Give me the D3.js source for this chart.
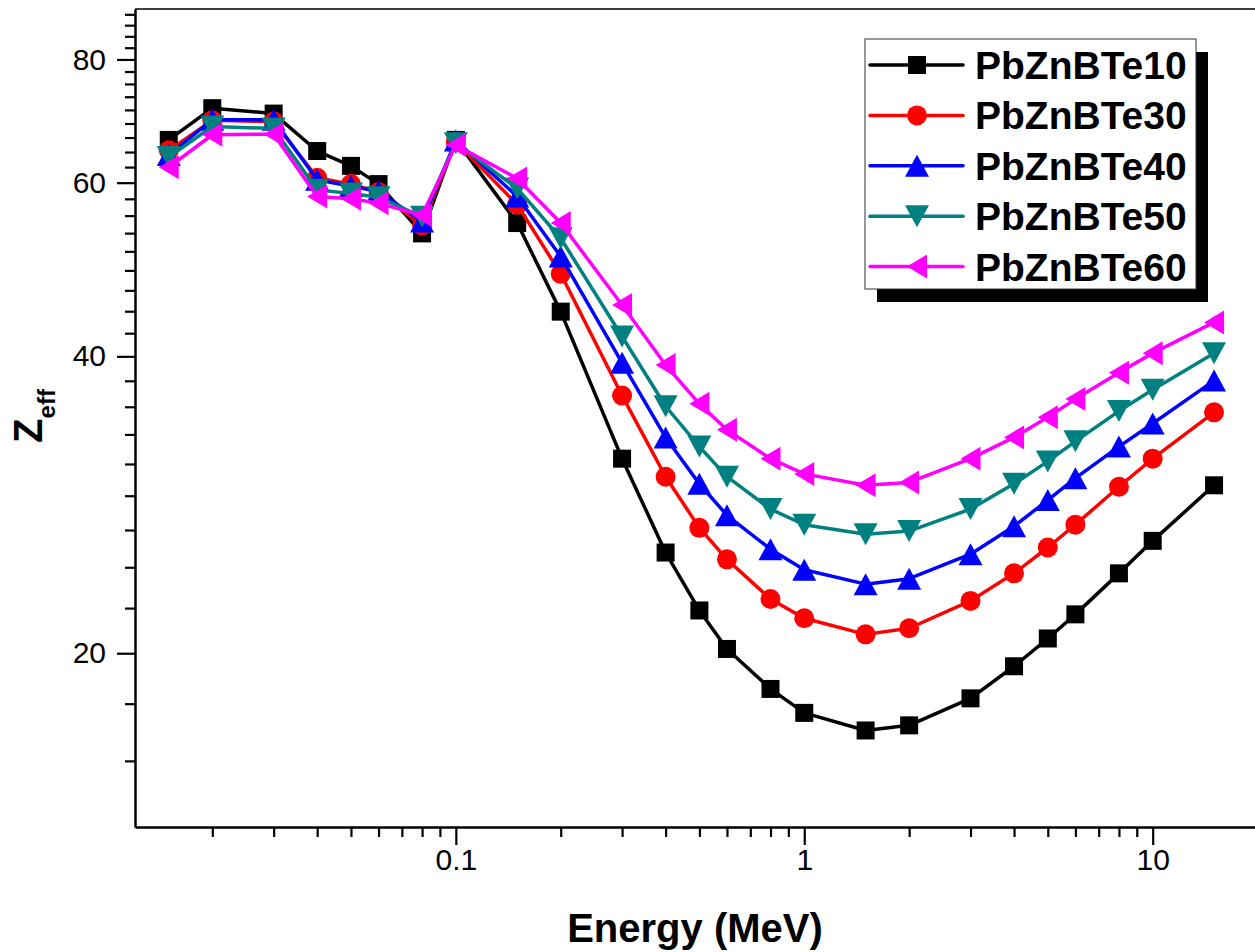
<!DOCTYPE html>
<html>
<head>
<meta charset="utf-8">
<script src="https://cdn.jsdelivr.net/npm/d3@7"></script>
<style>
  html, body { margin: 0; padding: 0; background: #ffffff; }
  svg { display: block; }
</style>
</head>
<body>
<script>
// Photon energies (MeV)
const energy = [0.015, 0.02, 0.03, 0.04, 0.05, 0.06, 0.08, 0.1, 0.15, 0.2, 0.3, 0.4, 0.5, 0.6, 0.8,
                1, 1.5, 2, 3, 4, 5, 6, 8, 10, 15];

// Effective atomic number for each glass
const zPbZnBTe10 = [66.3, 71.4, 70.5, 64.6, 62.4, 59.8, 53.3, 66.3, 54.6, 44.4, 31.5, 25.3, 22.1, 20.2, 18.4,
                    17.4, 16.7, 16.9, 18.0, 19.4, 20.7, 21.9, 24.1, 26.0, 29.6];
const zPbZnBTe30 = [64.7, 69.4, 69.2, 60.7, 59.8, 58.7, 54.3, 66.0, 57.0, 48.5, 36.5, 30.2, 26.8, 24.9, 22.7,
                    21.7, 20.9, 21.2, 22.6, 24.1, 25.6, 27.0, 29.5, 31.5, 35.1];
const zPbZnBTe40 = [64.0, 69.5, 69.5, 60.4, 59.5, 58.8, 54.8, 66.2, 58.1, 50.5, 39.4, 33.1, 29.7, 27.6, 25.5,
                    24.3, 23.5, 23.8, 25.2, 26.9, 28.6, 30.1, 32.4, 34.2, 37.8];
const zPbZnBTe50 = [63.7, 68.4, 68.1, 59.0, 58.5, 58.0, 55.4, 65.8, 59.2, 52.7, 41.9, 35.6, 32.4, 30.2, 28.0,
                    27.0, 26.4, 26.6, 28.0, 29.7, 31.3, 32.8, 35.2, 37.0, 40.3];
const zPbZnBTe60 = [62.2, 67.1, 67.2, 58.1, 57.8, 57.2, 55.6, 65.5, 60.6, 54.6, 45.1, 39.2, 35.8, 33.7, 31.5,
                    30.4, 29.6, 29.8, 31.5, 33.1, 34.7, 36.2, 38.5, 40.3, 43.3];

const seriesNames  = ["PbZnBTe10", "PbZnBTe30", "PbZnBTe40", "PbZnBTe50", "PbZnBTe60"];
const seriesValues = [zPbZnBTe10, zPbZnBTe30, zPbZnBTe40, zPbZnBTe50, zPbZnBTe60];
const seriesColors = ["#000000", "#ff0000", "#0000ff", "#008080", "#ff00ff"];
const seriesShapes = ["square", "circle", "up", "down", "left"];

// Axis ticks
const xMajorTicks = [0.1, 1, 10];
const xMajorLabels = ["0.1", "1", "10"];
const xMinorTicks = [0.02, 0.03, 0.04, 0.05, 0.06, 0.07, 0.08, 0.09,
                     0.2, 0.3, 0.4, 0.5, 0.6, 0.7, 0.8, 0.9,
                     2, 3, 4, 5, 6, 7, 8, 9, 20];
const yMajorTicks = [20, 40, 60, 80];
const yMajorLabels = ["20", "40", "60", "80"];

const W = 1255, H = 952;
const svg = d3.select("body").append("svg").attr("width", W).attr("height", H);

const x = d3.scaleLog().domain([0.012, 22]).range([135, 1272]);
const y = d3.scaleLog().domain([13.33, 90]).range([827, 9]);

// Eight evenly spaced minor ticks inside every 20-unit major interval
const yMinorTicks = [];
for (let m = 0; m <= 80; m += 20) {
  for (let k = 1; k <= 8; k++) {
    const v = m + k * 20 / 9;
    if (v > 13.4 && v < 90) yMinorTicks.push(v);
  }
}

const FONT = "Liberation Sans, Arial, Helvetica, sans-serif";

// top frame line
svg.append("line")
  .attr("x1", 135).attr("x2", 1272).attr("y1", 9).attr("y2", 9)
  .attr("stroke", "#000").attr("stroke-width", 1.5);

// x axis
const gxMinor = svg.append("g").attr("transform", "translate(0,827)")
  .call(d3.axisBottom(x).tickValues(xMinorTicks).tickFormat("").tickSize(10).tickSizeOuter(0));
gxMinor.select(".domain").remove();
const gx = svg.append("g").attr("transform", "translate(0,827)")
  .call(d3.axisBottom(x).tickValues(xMajorTicks)
    .tickFormat((d, i) => xMajorLabels[i]).tickSize(18).tickSizeOuter(0).tickPadding(4));

// y axis
const gyMinor = svg.append("g").attr("transform", "translate(135,0)")
  .call(d3.axisLeft(y).tickValues(yMinorTicks).tickFormat("").tickSize(10).tickSizeOuter(0));
gyMinor.select(".domain").remove();
const gy = svg.append("g").attr("transform", "translate(135,0)")
  .call(d3.axisLeft(y).tickValues(yMajorTicks)
    .tickFormat((d, i) => yMajorLabels[i]).tickSize(18).tickSizeOuter(0).tickPadding(11));

[gx, gy].forEach(g => {
  g.select(".domain").attr("stroke", "#000").attr("stroke-width", 2.5);
  g.selectAll(".tick text").attr("fill", "#000")
    .style("font-family", FONT).style("font-size", "30px");
});
[gx, gy, gxMinor, gyMinor].forEach(g => {
  g.selectAll(".tick line").attr("stroke", "#000").attr("stroke-width", 2.2);
});

// axis titles
svg.append("text")
  .attr("x", 695).attr("y", 942)
  .attr("text-anchor", "middle")
  .style("font-family", FONT).style("font-size", "40px").style("font-weight", "bold")
  .text("Energy (MeV)");

const yTitle = svg.append("text")
  .attr("transform", "translate(42,416) rotate(-90)")
  .attr("text-anchor", "middle")
  .style("font-family", FONT).style("font-weight", "bold");
yTitle.append("tspan").style("font-size", "40px").text("Z");
yTitle.append("tspan").style("font-size", "24px").attr("dy", 13).text("eff");

// marker shapes
function markerPath(shape) {
  switch (shape) {
    case "square": return "M-9,-9H9V9H-9Z";
    case "circle": return "M10,0A10,10 0 1,1 -10,0A10,10 0 1,1 10,0Z";
    case "up":     return "M0,-11L12,11L-12,11Z";
    case "down":   return "M0,11L12,-11L-12,-11Z";
    case "left":   return "M-10,0L10,-12L10,12Z";
  }
}

const line = d3.line().x(d => x(d.e)).y(d => y(d.z));

seriesValues.forEach((vals, si) => {
  const pts = energy.map((e, i) => ({ e: e, z: vals[i] }));
  const g = svg.append("g").attr("class", "series");
  g.append("path").datum(pts)
    .attr("d", line)
    .attr("fill", "none")
    .attr("stroke", seriesColors[si])
    .attr("stroke-width", 3.5)
    .attr("stroke-linejoin", "round");
  g.selectAll("path.mk").data(pts).enter().append("path")
    .attr("class", "mk")
    .attr("d", markerPath(seriesShapes[si]))
    .attr("transform", d => `translate(${x(d.e)},${y(d.z)})`)
    .attr("fill", seriesColors[si]);
});

// legend with drop shadow
const legend = svg.append("g");
legend.append("rect").attr("x", 877).attr("y", 52).attr("width", 331).attr("height", 250).attr("fill", "#000");
legend.append("rect").attr("x", 865).attr("y", 39).attr("width", 331).attr("height", 250)
  .attr("fill", "#fff").attr("stroke", "#333").attr("stroke-width", 1);

seriesNames.forEach((name, i) => {
  const cy = 65 + i * 50.4;
  const row = legend.append("g");
  row.append("line").attr("x1", 870).attr("x2", 963).attr("y1", cy).attr("y2", cy)
    .attr("stroke", seriesColors[i]).attr("stroke-width", 3.5).attr("stroke-linecap", "round");
  row.append("path").attr("d", markerPath(seriesShapes[i]))
    .attr("transform", `translate(917,${cy})`).attr("fill", seriesColors[i]);
  row.append("text").attr("x", 975).attr("y", cy + 14)
    .style("font-family", FONT).style("font-size", "39px").style("font-weight", "bold")
    .attr("fill", "#000").text(name);
});
</script>
</body>
</html>
